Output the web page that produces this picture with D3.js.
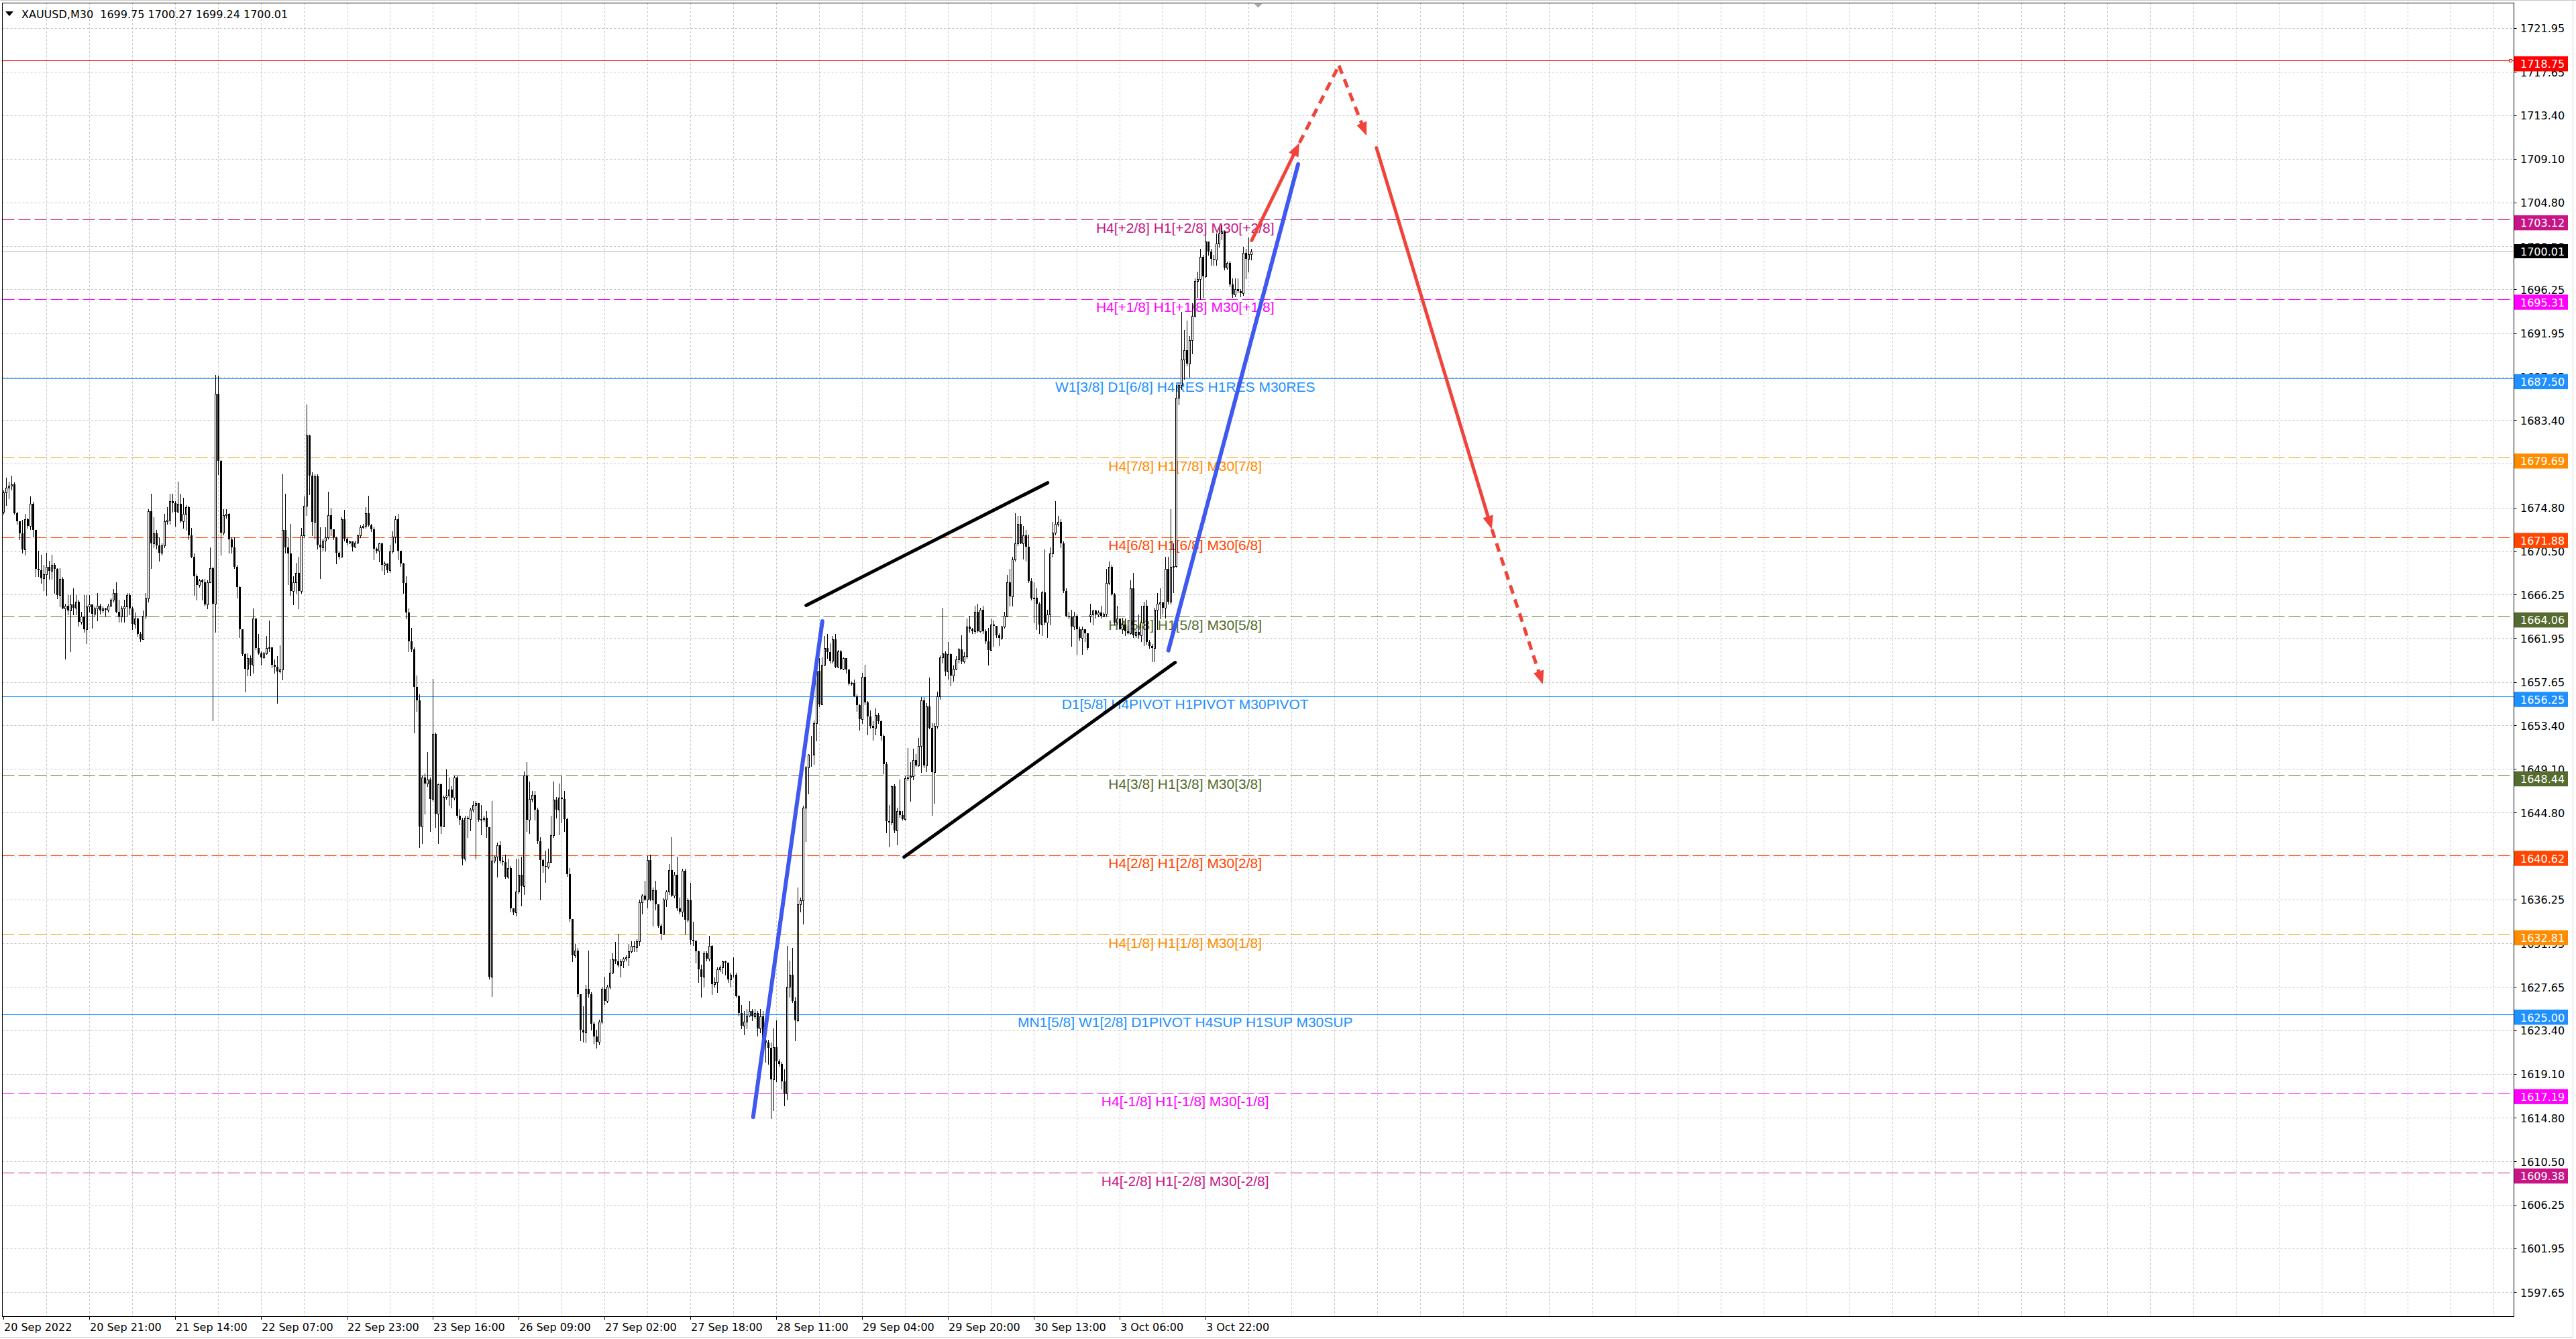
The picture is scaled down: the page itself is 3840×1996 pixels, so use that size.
<!DOCTYPE html>
<html>
<head>
<meta charset="utf-8">
<script src="https://cdn.jsdelivr.net/npm/d3@7"></script>
<style>
  html, body { margin: 0; padding: 0; background: #ffffff; }
  svg { display: block; }
</style>
</head>
<body>
<svg id="chart" width="3840" height="1996"></svg>
<script>
// ---------------------------------------------------------------
// XAUUSD M30 — candles, Murrey-math levels and forecast drawing
// ---------------------------------------------------------------

const symbolTitle = "XAUUSD,M30";
const lastQuote = [1699.75, 1700.27, 1699.24, 1700.01];   // O H L C of the live bar

// Bar-by-bar prices (index 0 = first visible bar)
const open = [
1674.4,1676.3,1676.8,1677.0,1677.1,1674.3,1673.5,1672.3,1670.7,1673.7,
1673.0,1675.2,1672.6,1668.8,1668.7,1667.9,1668.3,1669.0,1668.6,1669.2,
1668.8,1666.2,1667.8,1664.9,1665.2,1664.7,1665.3,1665.0,1665.6,1663.6,
1664.1,1662.9,1665.1,1665.3,1664.4,1664.9,1665.2,1664.7,1664.9,1664.8,
1665.2,1665.8,1666.4,1664.6,1664.1,1664.9,1665.1,1666.2,1664.9,1663.4,
1663.9,1662.4,1661.9,1664.2,1665.9,1674.5,1671.3,1672.3,1671.1,1670.4,
1671.1,1673.5,1673.6,1675.5,1675.3,1674.4,1675.2,1673.5,1674.2,1674.9,
1672.1,1670.0,1668.1,1667.2,1667.7,1667.5,1665.3,1667.5,1668.9,1665.4,
1686.0,1679.4,1672.4,1674.1,1674.2,1671.7,1670.9,1669.0,1667.0,1662.9,
1660.4,1659.0,1660.0,1659.4,1663.9,1661.0,1660.5,1660.1,1660.5,1661.0,
1661.1,1659.4,1659.2,1658.7,1658.9,1672.6,1670.9,1670.3,1666.6,1667.5,
1668.4,1666.6,1672.1,1675.0,1681.9,1678.0,1673.4,1677.9,1671.2,1670.9,
1671.6,1671.9,1674.1,1672.7,1671.9,1670.4,1670.0,1673.7,1671.8,1671.4,
1671.5,1671.0,1671.4,1672.1,1672.9,1673.0,1674.3,1673.1,1672.7,1670.8,
1670.6,1671.3,1669.2,1669.3,1668.7,1670.5,1672.0,1673.7,1670.6,1669.3,
1667.4,1664.5,1661.7,1660.9,1657.2,1655.9,1643.5,1648.3,1647.7,1648.1,
1646.2,1652.6,1644.7,1647.6,1643.5,1646.4,1646.5,1647.1,1646.3,1648.3,
1644.5,1644.1,1640.3,1644.3,1644.2,1645.1,1645.6,1645.8,1644.1,1644.2,
1644.3,1643.4,1628.7,1640.1,1640.5,1641.6,1640.1,1640.0,1638.5,1639.4,
1635.4,1635.0,1637.1,1638.7,1637.6,1648.5,1644.1,1646.2,1646.6,1645.1,
1642.0,1640.2,1639.6,1639.5,1640.0,1642.6,1646.1,1645.1,1646.3,1646.2,
1644.2,1638.8,1634.4,1630.8,1631.3,1627.0,1623.5,1623.2,1627.5,1627.0,
1624.1,1622.8,1622.3,1624.3,1627.5,1626.3,1627.7,1629.1,1630.4,1630.2,
1629.8,1630.2,1630.5,1630.6,1631.2,1631.7,1631.6,1632.2,1636.0,1636.7,
1636.3,1640.2,1636.3,1637.2,1635.8,1633.7,1632.9,1636.3,1637.1,1639.2,
1636.7,1638.7,1635.4,1635.1,1639.1,1634.3,1636.2,1632.3,1632.2,1631.2,
1629.4,1628.7,1631.0,1630.5,1631.7,1628.0,1628.2,1629.4,1629.6,1630.2,
1630.1,1628.4,1628.9,1628.9,1626.8,1625.1,1623.9,1624.3,1624.9,1625.3,
1624.8,1625.1,1623.6,1624.8,1622.4,1622.2,1621.7,1618.6,1621.8,1620.4,
1620.1,1618.4,1617.2,1627.7,1628.9,1626.3,1624.4,1635.8,1636.2,1645.3,
1649.3,1650.5,1650.5,1653.6,1658.8,1655.5,1659.4,1661.0,1660.6,1659.8,
1661.9,1659.2,1660.7,1659.0,1660.0,1658.9,1657.5,1657.6,1656.3,1655.4,
1654.0,1658.2,1655.7,1654.3,1653.4,1653.2,1654.4,1653.8,1652.4,1649.6,
1644.0,1643.9,1647.4,1643.1,1645.0,1644.6,1644.2,1648.2,1648.3,1648.4,
1650.0,1649.5,1651.4,1655.9,1649.5,1655.3,1653.2,1648.8,1653.4,1656.3,
1660.1,1660.5,1658.7,1660.4,1658.3,1659.0,1659.9,1660.9,1659.7,1660.2,
1663.1,1662.9,1662.7,1664.6,1662.7,1664.8,1662.7,1661.7,1660.8,1663.3,
1663.2,1662.3,1662.0,1663.1,1664.2,1667.5,1666.1,1669.7,1671.3,1673.2,
1671.3,1672.1,1671.0,1667.6,1665.9,1666.0,1665.4,1663.3,1666.5,1663.5,
1664.3,1670.3,1672.4,1673.2,1673.4,1671.3,1666.6,1664.2,1664.1,1663.1,
1664.2,1662.9,1662.0,1662.9,1662.5,1664.2,1664.3,1664.7,1664.3,1664.5,
1664.2,1664.4,1667.4,1669.0,1666.3,1663.5,1663.9,1662.9,1663.3,1662.7,
1662.5,1666.9,1662.3,1662.6,1662.3,1663.5,1665.2,1661.6,1661.2,1661.0,
1664.8,1665.4,1665.5,1665.0,1668.8,1665.6,1669.0,1669.1,1685.6,1686.9,
1689.4,1690.3,1689.0,1691.3,1693.7,1697.1,1697.3,1699.5,1697.6,1701.0,
1700.0,1699.3,1699.2,1700.8,1701.8,1702.0,1698.4,1698.9,1696.8,1695.8,
1696.3,1696.1,1695.9,1699.9,1699.3,1699.75
];
const high = [
1676.5,1677.8,1677.4,1678.0,1677.3,1674.4,1673.5,1673.6,1674.2,1673.8,
1675.9,1675.4,1672.6,1670.6,1670.2,1669.2,1670.4,1669.6,1670.2,1669.4,
1668.9,1668.9,1668.0,1665.4,1666.2,1666.2,1666.9,1666.2,1665.8,1664.6,
1666.2,1666.2,1666.2,1665.3,1665.1,1666.4,1665.4,1665.1,1665.0,1665.4,
1665.9,1666.8,1667.5,1665.8,1665.2,1665.8,1666.4,1666.4,1665.1,1664.5,
1664.0,1662.6,1664.7,1666.4,1674.7,1676.2,1673.9,1672.6,1671.9,1671.3,
1674.2,1674.9,1676.2,1676.2,1675.5,1677.4,1676.2,1675.8,1675.1,1675.0,
1672.8,1670.3,1668.3,1667.8,1667.8,1667.8,1667.7,1670.9,1669.0,1687.9,
1687.8,1679.5,1674.7,1674.7,1674.3,1671.9,1671.9,1669.2,1667.1,1662.9,
1660.5,1660.5,1660.3,1664.9,1663.9,1662.4,1660.7,1660.6,1662.2,1663.7,
1661.1,1659.9,1660.2,1661.3,1678.1,1676.2,1671.9,1673.2,1668.1,1669.4,
1670.0,1672.8,1675.9,1685.0,1682.0,1678.3,1678.1,1678.1,1672.9,1671.8,
1672.9,1676.4,1674.8,1672.7,1672.0,1670.5,1673.9,1674.6,1671.9,1671.6,
1671.5,1671.6,1672.2,1673.1,1673.2,1674.9,1676.0,1673.2,1672.9,1670.9,
1671.4,1671.4,1669.5,1669.3,1671.2,1672.5,1674.0,1674.2,1670.6,1669.4,
1668.1,1664.9,1663.0,1661.1,1658.3,1656.5,1648.5,1648.7,1650.8,1648.3,
1658.0,1652.7,1647.7,1647.7,1646.5,1649.1,1648.3,1647.4,1648.5,1648.5,
1645.2,1644.3,1644.5,1644.5,1645.3,1646.0,1646.0,1645.8,1645.6,1644.5,
1645.0,1643.4,1646.0,1640.6,1641.9,1642.0,1640.5,1640.7,1640.3,1639.6,
1635.4,1640.3,1640.3,1640.5,1648.9,1649.8,1647.9,1647.0,1647.0,1645.3,
1642.4,1640.3,1641.1,1641.3,1644.5,1647.9,1646.4,1647.7,1648.5,1647.0,
1644.3,1639.4,1634.4,1631.9,1631.5,1627.0,1625.8,1627.9,1631.3,1627.2,
1624.3,1623.5,1624.5,1627.7,1628.7,1627.9,1630.4,1631.0,1632.1,1632.9,
1630.4,1630.6,1630.8,1631.9,1632.2,1632.2,1632.4,1636.3,1636.8,1638.1,
1640.6,1640.7,1637.5,1638.1,1635.8,1633.9,1636.4,1637.2,1639.8,1642.4,
1639.0,1640.5,1636.5,1639.3,1639.3,1636.4,1637.9,1634.1,1632.3,1631.3,
1629.9,1631.2,1631.2,1632.7,1631.8,1628.6,1629.6,1629.8,1630.3,1630.3,
1630.1,1629.1,1630.6,1629.1,1626.9,1625.9,1625.3,1625.5,1626.3,1625.5,
1625.5,1625.3,1625.5,1625.3,1623.9,1622.5,1622.2,1623.6,1624.4,1620.6,
1620.3,1619.6,1631.7,1630.3,1631.5,1626.7,1637.5,1636.5,1645.5,1649.4,
1650.6,1652.4,1653.9,1660.8,1660.0,1660.1,1662.2,1662.4,1661.5,1662.2,
1662.4,1660.8,1660.8,1660.1,1660.0,1658.9,1657.7,1657.9,1656.5,1655.5,
1658.6,1659.4,1655.8,1654.9,1653.8,1655.1,1654.6,1653.9,1652.5,1649.8,
1645.6,1647.5,1647.6,1645.3,1648.1,1645.0,1648.4,1651.2,1649.8,1651.1,
1650.6,1652.2,1656.2,1656.2,1655.6,1658.1,1653.6,1653.6,1656.7,1660.3,
1665.0,1660.7,1661.6,1660.5,1659.3,1660.2,1661.0,1662.3,1660.6,1663.9,
1664.2,1663.0,1665.2,1665.4,1665.0,1665.2,1662.9,1663.0,1663.9,1663.7,
1663.2,1662.5,1663.2,1664.6,1668.2,1668.8,1670.0,1674.3,1674.0,1674.0,
1673.0,1672.6,1672.2,1667.9,1667.5,1666.9,1665.5,1666.6,1670.7,1664.8,
1670.9,1673.4,1675.5,1674.0,1673.7,1671.5,1666.9,1664.6,1664.8,1664.6,
1664.4,1663.1,1663.1,1662.9,1662.5,1665.4,1664.8,1664.8,1664.7,1665.2,
1664.5,1668.8,1669.5,1669.2,1666.4,1665.2,1663.9,1664.0,1663.9,1663.1,
1667.7,1668.4,1662.8,1664.3,1665.2,1665.6,1665.8,1661.8,1661.4,1665.0,
1666.4,1666.9,1665.6,1670.0,1670.0,1674.7,1671.3,1686.9,1687.1,1694.1,
1692.3,1693.2,1691.7,1694.9,1697.4,1698.0,1700.3,1699.7,1701.6,1701.0,
1700.3,1699.7,1701.8,1702.4,1702.6,1702.0,1699.0,1699.1,1697.4,1697.4,
1697.4,1696.3,1700.5,1700.3,1701.4,1700.27
];
const low = [
1674.2,1675.1,1675.7,1676.6,1674.2,1673.2,1671.7,1670.4,1670.2,1672.8,
1672.7,1672.0,1668.1,1668.1,1667.4,1666.7,1666.2,1667.8,1667.8,1666.4,
1665.9,1665.1,1664.9,1659.95,1664.3,1660.7,1664.3,1664.3,1663.2,1663.4,
1662.6,1661.5,1664.6,1663.0,1664.1,1663.7,1664.4,1664.5,1664.2,1664.6,
1665.1,1665.6,1664.5,1663.6,1663.6,1663.6,1664.1,1664.3,1662.9,1663.0,
1662.2,1661.7,1661.9,1663.9,1665.6,1668.9,1670.9,1670.8,1669.6,1670.2,
1670.9,1673.2,1673.2,1674.4,1673.0,1674.4,1673.4,1672.8,1672.6,1671.7,
1669.9,1666.2,1665.8,1667.0,1665.8,1665.2,1664.9,1667.5,1653.9,1662.6,
1678.1,1670.2,1672.2,1673.8,1670.4,1670.4,1668.9,1666.0,1662.1,1660.3,
1656.7,1658.3,1658.3,1658.6,1660.9,1660.4,1659.4,1660.0,1660.4,1660.7,
1659.1,1658.6,1655.6,1658.6,1657.9,1670.4,1667.3,1666.2,1665.3,1666.4,
1664.9,1666.4,1671.9,1674.1,1676.1,1672.1,1671.8,1670.8,1667.9,1670.6,
1670.6,1671.8,1672.1,1671.7,1669.3,1669.8,1670.0,1671.6,1671.2,1671.3,
1670.6,1670.9,1671.3,1671.9,1672.8,1672.8,1673.0,1672.5,1669.7,1670.4,
1669.5,1668.7,1668.3,1668.5,1668.5,1670.4,1671.4,1669.7,1669.1,1666.4,
1663.9,1660.7,1660.7,1652.7,1654.8,1641.4,1641.8,1644.7,1647.4,1643.0,
1646.0,1643.4,1641.8,1642.8,1643.5,1646.2,1645.6,1645.3,1646.1,1644.3,
1643.7,1639.7,1640.1,1642.4,1643.1,1644.9,1640.3,1644.0,1642.7,1644.0,
1642.4,1628.5,1626.8,1639.9,1638.5,1639.9,1639.7,1638.4,1638.4,1635.1,
1634.8,1634.7,1636.9,1635.7,1636.8,1643.0,1642.8,1645.9,1644.1,1641.8,
1636.3,1639.0,1638.0,1639.4,1640.0,1642.4,1644.3,1642.7,1643.9,1643.0,
1638.6,1634.2,1630.2,1630.6,1626.8,1622.4,1622.3,1622.2,1626.7,1623.5,
1622.1,1621.7,1622.0,1624.1,1626.0,1626.2,1627.5,1629.0,1630.0,1629.7,
1628.7,1629.6,1630.3,1629.8,1631.1,1631.2,1631.2,1631.8,1634.9,1636.2,
1635.5,1636.2,1633.7,1635.3,1633.6,1632.4,1632.9,1635.6,1636.8,1636.6,
1636.5,1635.2,1634.9,1634.6,1632.9,1634.1,1631.9,1631.8,1630.1,1628.2,
1626.7,1627.7,1630.3,1630.3,1627.0,1627.7,1627.2,1629.2,1629.0,1628.9,
1628.2,1627.7,1628.7,1626.7,1624.9,1623.6,1623.0,1623.6,1624.8,1624.4,
1624.6,1622.9,1623.2,1622.2,1620.3,1620.1,1614.8,1615.6,1618.4,1619.9,
1617.7,1616.0,1616.6,1626.7,1626.2,1622.4,1624.3,1635.1,1633.9,1642.0,
1646.7,1649.4,1649.6,1651.9,1655.3,1655.5,1659.3,1660.0,1659.6,1659.6,
1659.1,1659.1,1658.9,1658.9,1658.6,1657.4,1657.4,1656.3,1654.8,1653.0,
1653.6,1655.5,1652.5,1653.2,1652.0,1652.5,1653.6,1652.0,1648.7,1642.9,
1641.5,1643.7,1642.9,1641.7,1644.4,1644.1,1644.1,1648.0,1646.0,1648.1,
1649.4,1649.4,1648.8,1649.3,1648.9,1653.1,1644.6,1645.8,1653.2,1656.0,
1659.6,1658.3,1658.0,1657.3,1657.8,1658.9,1659.6,1659.5,1659.6,1660.0,
1662.6,1662.5,1662.5,1662.6,1662.6,1662.5,1661.5,1659.4,1660.8,1661.2,
1662.1,1661.3,1661.9,1663.0,1664.1,1665.2,1665.2,1669.6,1671.1,1671.3,
1669.8,1669.6,1667.5,1665.8,1663.5,1662.9,1662.5,1662.3,1663.3,1662.1,
1663.3,1670.0,1672.2,1673.0,1670.9,1666.5,1664.1,1663.9,1661.2,1662.9,
1660.4,1661.8,1660.4,1661.7,1660.9,1663.6,1663.3,1664.0,1664.1,1664.0,
1664.1,1664.2,1667.3,1666.2,1663.3,1663.3,1662.9,1662.5,1662.3,1662.4,
1662.4,1662.1,1662.1,1662.0,1661.7,1661.3,1661.4,1661.0,1659.7,1659.7,
1662.9,1663.9,1664.4,1664.0,1665.4,1665.4,1666.5,1669.0,1685.0,1686.5,
1687.5,1688.8,1687.7,1690.0,1693.6,1695.5,1695.3,1695.5,1697.5,1699.7,
1698.7,1698.7,1698.7,1700.5,1701.2,1698.2,1698.3,1696.6,1695.5,1695.6,
1696.0,1695.6,1695.7,1697.4,1698.0,1699.24
];
const close = [
1676.3,1676.8,1677.0,1677.1,1674.3,1673.5,1672.3,1670.7,1673.7,1673.0,
1675.2,1672.6,1668.8,1668.7,1667.9,1668.3,1669.0,1668.6,1669.2,1668.8,
1666.2,1667.8,1664.9,1665.2,1664.7,1665.3,1665.0,1665.6,1663.6,1664.1,
1662.9,1665.1,1665.3,1664.4,1664.9,1665.2,1664.7,1664.9,1664.8,1665.2,
1665.8,1666.4,1664.6,1664.1,1664.9,1665.1,1666.2,1664.9,1663.4,1663.9,
1662.4,1661.9,1664.2,1665.9,1674.5,1671.3,1672.3,1671.1,1670.4,1671.1,
1673.5,1673.6,1675.5,1675.3,1674.4,1675.2,1673.5,1674.2,1674.9,1672.1,
1670.0,1668.1,1667.2,1667.7,1667.5,1665.3,1667.5,1668.9,1665.4,1686.0,
1679.4,1672.4,1674.1,1674.2,1671.7,1670.9,1669.0,1667.0,1662.9,1660.4,
1659.0,1660.0,1659.4,1663.9,1661.0,1660.5,1660.1,1660.5,1661.0,1661.1,
1659.4,1659.2,1658.7,1658.9,1672.6,1670.9,1670.3,1666.6,1667.5,1668.4,
1666.6,1672.1,1675.0,1681.9,1678.0,1673.4,1677.9,1671.2,1670.9,1671.6,
1671.9,1674.1,1672.7,1671.9,1670.4,1670.0,1673.7,1671.8,1671.4,1671.5,
1671.0,1671.4,1672.1,1672.9,1673.0,1674.3,1673.1,1672.7,1670.8,1670.6,
1671.3,1669.2,1669.3,1668.7,1670.5,1672.0,1673.7,1670.6,1669.3,1667.4,
1664.5,1661.7,1660.9,1657.2,1655.9,1643.5,1648.3,1647.7,1648.1,1646.2,
1652.6,1644.7,1647.6,1643.5,1646.4,1646.5,1647.1,1646.3,1648.3,1644.5,
1644.1,1640.3,1644.3,1644.2,1645.1,1645.6,1645.8,1644.1,1644.2,1644.3,
1643.4,1628.7,1640.1,1640.5,1641.6,1640.1,1640.0,1638.5,1639.4,1635.4,
1635.0,1637.1,1638.7,1637.6,1648.5,1644.1,1646.2,1646.6,1645.1,1642.0,
1640.2,1639.6,1639.5,1640.0,1642.6,1646.1,1645.1,1646.3,1646.2,1644.2,
1638.8,1634.4,1630.8,1631.3,1627.0,1623.5,1623.2,1627.5,1627.0,1624.1,
1622.8,1622.3,1624.3,1627.5,1626.3,1627.7,1629.1,1630.4,1630.2,1629.8,
1630.2,1630.5,1630.6,1631.2,1631.7,1631.6,1632.2,1636.0,1636.7,1636.3,
1640.2,1636.3,1637.2,1635.8,1633.7,1632.9,1636.3,1637.1,1639.2,1636.7,
1638.7,1635.4,1635.1,1639.1,1634.3,1636.2,1632.3,1632.2,1631.2,1629.4,
1628.7,1631.0,1630.5,1631.7,1628.0,1628.2,1629.4,1629.6,1630.2,1630.1,
1628.4,1628.9,1628.9,1626.8,1625.1,1623.9,1624.3,1624.9,1625.3,1624.8,
1625.1,1623.6,1624.8,1622.4,1622.2,1621.7,1618.6,1621.8,1620.4,1620.1,
1618.4,1617.2,1627.7,1628.9,1626.3,1624.4,1635.8,1636.2,1645.3,1649.3,
1650.5,1650.5,1653.6,1658.8,1655.5,1659.4,1661.0,1660.6,1659.8,1661.9,
1659.2,1660.7,1659.0,1660.0,1658.9,1657.5,1657.6,1656.3,1655.4,1654.0,
1658.2,1655.7,1654.3,1653.4,1653.2,1654.4,1653.8,1652.4,1649.6,1644.0,
1643.9,1647.4,1643.1,1645.0,1644.6,1644.2,1648.2,1648.3,1648.4,1650.0,
1649.5,1651.4,1655.9,1649.5,1655.3,1653.2,1648.8,1653.4,1656.3,1660.1,
1660.5,1658.7,1660.4,1658.3,1659.0,1659.9,1660.9,1659.7,1660.2,1663.1,
1662.9,1662.7,1664.6,1662.7,1664.8,1662.7,1661.7,1660.8,1663.3,1663.2,
1662.3,1662.0,1663.1,1664.2,1667.5,1666.1,1669.7,1671.3,1673.2,1671.3,
1672.1,1671.0,1667.6,1665.9,1666.0,1665.4,1663.3,1666.5,1663.5,1664.3,
1670.3,1672.4,1673.2,1673.4,1671.3,1666.6,1664.2,1664.1,1663.1,1664.2,
1662.9,1662.0,1662.9,1662.5,1661.0,1664.3,1664.7,1664.3,1664.5,1664.2,
1664.4,1667.4,1669.0,1666.3,1663.5,1663.9,1662.9,1663.3,1662.7,1662.5,
1666.9,1662.3,1662.6,1662.3,1663.5,1665.2,1661.6,1661.2,1661.0,1664.8,
1665.4,1665.5,1665.0,1668.8,1665.6,1669.0,1669.1,1685.6,1686.9,1689.4,
1690.3,1689.0,1691.3,1693.7,1697.1,1697.3,1699.5,1697.6,1701.0,1700.0,
1699.3,1699.2,1700.8,1701.8,1702.0,1698.4,1698.9,1696.8,1695.8,1696.3,
1696.1,1695.9,1699.9,1699.3,1699.75,1700.01
];

// Time axis: one label every 32 bars
const timeLabels = [
  "20 Sep 2022","20 Sep 21:00","21 Sep 14:00","22 Sep 07:00","22 Sep 23:00",
  "23 Sep 16:00","26 Sep 09:00","27 Sep 02:00","27 Sep 18:00","28 Sep 11:00",
  "29 Sep 04:00","29 Sep 20:00","30 Sep 13:00","3 Oct 06:00","3 Oct 22:00"
];

// Price axis tick values
const priceTicks = [
  1721.95,1717.65,1713.40,1709.10,1704.80,1700.50,1696.25,1691.95,1687.65,1683.40,
  1679.10,1674.80,1670.50,1666.25,1661.95,1657.65,1653.40,1649.10,1644.80,1640.50,
  1636.25,1631.95,1627.65,1623.40,1619.10,1614.80,1610.50,1606.25,1601.95,1597.65
];

// Murrey-math / pivot levels
const levelPrices = [1718.75,1703.12,1695.31,1687.50,1679.69,1671.88,1664.06,
                     1656.25,1648.44,1640.62,1632.81,1625.00,1617.19,1609.38];
const levelNames = [
  "",
  "H4[+2/8] H1[+2/8] M30[+2/8]",
  "H4[+1/8] H1[+1/8] M30[+1/8]",
  "W1[3/8] D1[6/8] H4RES H1RES M30RES",
  "H4[7/8] H1[7/8] M30[7/8]",
  "H4[6/8] H1[6/8] M30[6/8]",
  "H4[5/8] H1[5/8] M30[5/8]",
  "D1[5/8] H4PIVOT H1PIVOT M30PIVOT",
  "H4[3/8] H1[3/8] M30[3/8]",
  "H4[2/8] H1[2/8] M30[2/8]",
  "H4[1/8] H1[1/8] M30[1/8]",
  "MN1[5/8] W1[2/8] D1PIVOT H4SUP H1SUP M30SUP",
  "H4[-1/8] H1[-1/8] M30[-1/8]",
  "H4[-2/8] H1[-2/8] M30[-2/8]"
];

// Trend lines as [barIndex, price] anchor pairs
const blueTrend = [
  [[279.3, 1614.9], [305.1, 1663.66]],
  [[434.05, 1660.78], [482.4, 1708.6]]
];
const channelLines = [
  [[299.05, 1665.21], [389.05, 1677.27]],
  [[335.55, 1640.47], [436.55, 1659.6]]
];
// Forecast path legs
const forecastLegs = [
  [[465.1, 1701.1], [482.9, 1710.7]],
  [[482.9, 1710.7], [497.6, 1718.3]],
  [[497.6, 1718.3], [507.9, 1711.4]],
  [[511.6, 1710.2], [554.6, 1672.7]],
  [[554.6, 1672.7], [573.6, 1657.45]]
];

// ---------------------------------------------------------------
const svg = d3.select("#chart");
const PL = 3.5, PT = 4.5, PR = 3747.5, PB = 1962.5;

const y = d3.scaleLinear().domain([1721.95, 1597.65]).range([42.4, 1926.6]);
const x = d3.scaleLinear().domain([0, 1]).range([5.5, 9.5]);   // 4 px per bar
const crisp = v => Math.round(v - 0.5) + 0.5;

const AXIS_FONT = "'DejaVu Sans', Verdana, sans-serif";
const LABEL_FONT = "'Liberation Sans', Arial, sans-serif";

svg.append("rect").attr("width", 3840).attr("height", 1996).attr("fill", "#ffffff");

const defs = svg.append("defs");
defs.append("clipPath").attr("id", "plotClip")
  .append("rect").attr("x", PL).attr("y", PT).attr("width", PR - PL).attr("height", PB - PT);

const plot = svg.append("g").attr("clip-path", "url(#plotClip)");

// grid
const grid = plot.append("g").attr("stroke", "#c4c4c4").attr("stroke-width", 1).attr("stroke-dasharray", "3,3");
grid.selectAll("line.h").data(priceTicks).join("line").attr("class", "h")
  .attr("x1", PL).attr("x2", PR)
  .attr("y1", d => crisp(y(d))).attr("y2", d => crisp(y(d)));
grid.selectAll("line.v").data(d3.range(16, 936, 16)).join("line").attr("class", "v")
  .attr("x1", d => crisp(x(d))).attr("x2", d => crisp(x(d)))
  .attr("y1", PT).attr("y2", PB);

// level colours & styles
const levelColor = ["#ff0000","#c71585","#ff00ff","#1e90ff","#ff8c00","#ff4500","#556b2f",
                    "#1e90ff","#556b2f","#ff4500","#ff8c00","#1e90ff","#ff00ff","#c71585"];
const levelDash  = [null,"18,6","18,6",null,"18,6","18,6","18,6",
                    null,"18,6","18,6","18,6",null,"18,6","18,6"];
const levels = levelPrices.map((p, k) => ({p, name: levelNames[k], color: levelColor[k], dash: levelDash[k]}));

const lv = plot.append("g");
lv.selectAll("line").data(levels).join("line")
  .attr("x1", PL).attr("x2", PR)
  .attr("y1", d => crisp(y(d.p))).attr("y2", d => crisp(y(d.p)))
  .attr("stroke", d => d.color).attr("stroke-width", 1)
  .attr("stroke-dasharray", d => d.dash);

// bid line
const bid = lastQuote[3];
plot.append("line").attr("x1", PL).attr("x2", PR)
  .attr("y1", crisp(y(bid))).attr("y2", crisp(y(bid)))
  .attr("stroke", "#c0c0c0").attr("stroke-width", 1);

// level captions (under the candles)
const labelBar = 440.3;
lv.selectAll("text").data(levels.filter(d => d.name)).join("text")
  .attr("x", x(labelBar)).attr("y", d => y(d.p) + 19)
  .attr("text-anchor", "middle")
  .attr("font-family", LABEL_FONT).attr("font-size", 21)
  .attr("fill", d => d.color)
  .text(d => d.name);

// candles
const N = Math.min(open.length, high.length, low.length, close.length);
const bars = d3.range(N).map(i => ({i, o: open[i], h: high[i], l: low[i], c: close[i]}));
const cg = plot.append("g");
cg.selectAll("line.wick").data(bars).join("line").attr("class", "wick")
  .attr("x1", d => x(d.i)).attr("x2", d => x(d.i))
  .attr("y1", d => Math.round(y(d.h))).attr("y2", d => Math.round(y(d.l)) + 1)
  .attr("stroke", "#000").attr("stroke-width", 1);

const up = bars.filter(d => d.c >= d.o);
const dn = bars.filter(d => d.c < d.o);
cg.selectAll("rect.up").data(up).join("rect").attr("class", "up")
  .attr("x", d => x(d.i) - 1)
  .attr("y", d => Math.round(y(d.c)) + 0.5)
  .attr("width", 2)
  .attr("height", d => Math.max(0, Math.round(y(d.o)) - Math.round(y(d.c))))
  .attr("fill", "#ffffff").attr("stroke", "#000").attr("stroke-width", 1);
cg.selectAll("rect.dn").data(dn).join("rect").attr("class", "dn")
  .attr("x", d => x(d.i) - 1.5)
  .attr("y", d => Math.round(y(d.o)))
  .attr("width", 3)
  .attr("height", d => Math.max(1, Math.round(y(d.c)) - Math.round(y(d.o))))
  .attr("fill", "#000");

// trend lines
const lineGen = d3.line().x(d => x(d[0])).y(d => y(d[1]));
const tg = plot.append("g").attr("fill", "none").attr("stroke-linecap", "round");
tg.selectAll("path.blue").data(blueTrend).join("path").attr("class", "blue")
  .attr("d", lineGen).attr("stroke", "#3f58ef").attr("stroke-width", 6);
tg.selectAll("path.chan").data(channelLines).join("path").attr("class", "chan")
  .attr("d", lineGen).attr("stroke", "#000000").attr("stroke-width", 5);

// forecast arrows
const RED = "#f0443a";
const legDashed = [false, true, true, false, true];
const legHead   = [true, false, true, true, true];
const fg = plot.append("g");
forecastLegs.forEach((leg, k) => {
  const x1 = x(leg[0][0]), y1 = y(leg[0][1]), x2 = x(leg[1][0]), y2 = y(leg[1][1]);
  const ang = Math.atan2(y2 - y1, x2 - x1);
  const hl = legHead[k] ? 20 : 0;
  const ex = x2 - Math.cos(ang) * hl * 0.6, ey = y2 - Math.sin(ang) * hl * 0.6;
  fg.append("line").attr("x1", x1).attr("y1", y1).attr("x2", ex).attr("y2", ey)
    .attr("stroke", RED).attr("stroke-width", 5)
    .attr("stroke-linecap", legDashed[k] ? "butt" : "round")
    .attr("stroke-dasharray", legDashed[k] ? "13,9" : null);
  if (legHead[k]) {
    const hw = 8;
    const bx = x2 - Math.cos(ang) * hl, by = y2 - Math.sin(ang) * hl;
    const px = -Math.sin(ang) * hw, py = Math.cos(ang) * hw;
    fg.append("path")
      .attr("d", `M${x2},${y2}L${bx + px},${by + py}L${bx - px},${by - py}Z`)
      .attr("fill", RED);
  }
});

// red horizontal line anchor square
plot.append("rect").attr("x", 3740.5).attr("y", crisp(y(levelPrices[0])) - 2)
  .attr("width", 4).attr("height", 4).attr("fill", "#fff").attr("stroke", "#ff0000").attr("stroke-width", 1);

// chart frame
svg.append("rect").attr("x", PL).attr("y", PT).attr("width", PR - PL).attr("height", PB - PT)
  .attr("fill", "none").attr("stroke", "#000").attr("stroke-width", 1);
svg.append("line").attr("x1", 0).attr("x2", 3840).attr("y1", 0.5).attr("y2", 0.5).attr("stroke", "#c8c8c8");
svg.append("line").attr("x1", 3835.5).attr("x2", 3835.5).attr("y1", 0).attr("y2", 1994).attr("stroke", "#d4d4d4");
svg.append("line").attr("x1", 0).attr("x2", 3836).attr("y1", 1993.5).attr("y2", 1993.5).attr("stroke", "#d4d4d4");

// chart shift marker
const shiftX = x(N + 1.5);
svg.append("path").attr("d", `M${shiftX - 7},${PT}L${shiftX + 7},${PT}L${shiftX},${PT + 7}Z`).attr("fill", "#a8a8a8");

// price axis
const ax = svg.append("g");
ax.selectAll("line").data(priceTicks).join("line")
  .attr("x1", PR).attr("x2", PR + 4)
  .attr("y1", d => crisp(y(d))).attr("y2", d => crisp(y(d)))
  .attr("stroke", "#000");
ax.selectAll("text").data(priceTicks).join("text")
  .attr("x", 3757).attr("y", d => y(d) + 6)
  .attr("font-family", AXIS_FONT).attr("font-size", 16).attr("fill", "#000")
  .text(d => d.toFixed(2));

// price tags for levels and bid
const tags = svg.append("g");
levels.forEach(d => {
  const yy = y(d.p);
  tags.append("rect").attr("x", 3748).attr("y", yy - 7).attr("width", 80).attr("height", 22.5).attr("fill", d.color);
  tags.append("text").attr("x", 3757).attr("y", yy + 10.5)
    .attr("font-family", AXIS_FONT).attr("font-size", 16).attr("fill", "#fff")
    .text(d.p.toFixed(2));
});
{
  const yy = y(bid);
  tags.append("rect").attr("x", 3748).attr("y", yy - 11).attr("width", 80).attr("height", 21).attr("fill", "#000");
  tags.append("text").attr("x", 3757).attr("y", yy + 6)
    .attr("font-family", AXIS_FONT).attr("font-size", 16).attr("fill", "#fff")
    .text(bid.toFixed(2));
}

// time axis
const tx = svg.append("g");
const tickBars = timeLabels.map((t, k) => ({t, b: k * 32}));
tx.selectAll("line").data(tickBars).join("line")
  .attr("x1", d => crisp(x(d.b))).attr("x2", d => crisp(x(d.b)))
  .attr("y1", PB).attr("y2", PB + 5).attr("stroke", "#000");
tx.selectAll("text").data(tickBars).join("text")
  .attr("x", d => x(d.b) + 0.5).attr("y", 1983.5)
  .attr("font-family", AXIS_FONT).attr("font-size", 16).attr("fill", "#000")
  .text(d => d.t);

// header
svg.append("path").attr("d", "M8,17L20,17L14,24Z").attr("fill", "#000");
svg.append("text").attr("x", 32).attr("y", 27)
  .attr("font-family", AXIS_FONT).attr("font-size", 16).attr("fill", "#000")
  .style("white-space", "pre")
  .text(symbolTitle + "  " + lastQuote.map(v => v.toFixed(2)).join(" "));
</script>
</body>
</html>
